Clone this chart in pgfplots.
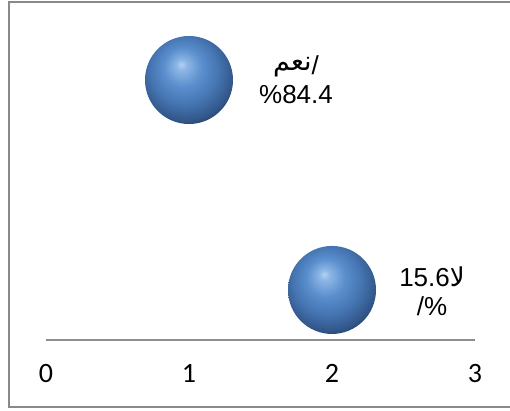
\documentclass[border=0pt]{standalone}
\usepackage{fontspec}
\usepackage{pgfplots}
\pgfplotsset{compat=1.18}
\setmainfont{Liberation Sans}
\newfontfamily\arabicfont[Script=Arabic]{DejaVu Sans}
\newfontfamily\tickfont{Carlito}
\TeXXeTstate=1

\definecolor{framegray}{HTML}{898989}
\definecolor{axisgray}{HTML}{8E8E8E}
% sphere colours, from the highlight out to the shaded rim
\definecolor{bA}{HTML}{B3D2F4}
\definecolor{bB}{HTML}{8DB6E5}
\definecolor{bC}{HTML}{5A8ECD}
\definecolor{bD}{HTML}{4676B3}
\definecolor{bE}{HTML}{32578A}
\definecolor{bF}{HTML}{1C3352}

\pgfdeclareradialshading{bubble}{\pgfqpoint{-4.5bp}{9bp}}{%
  color(0bp)=(bA); color(3bp)=(bB); color(11bp)=(bC); color(19bp)=(bD);
  color(27bp)=(bE); color(33bp)=(bF); color(50bp)=(bF)}

\pgfdeclareplotmark{sphere}{%
  \pgfpathcircle{\pgfpointorigin}{\pgfplotmarksize}%
  \pgfshadepath{bubble}{0}%
  \pgfusepath{discard}}

\begin{document}
\begin{tikzpicture}
\useasboundingbox (0,0) rectangle (510pt,410pt);
\fill[white] (0,0) rectangle (510pt,410pt);
\draw[framegray, line width=1.5pt] (9pt,408pt) rectangle (530pt,3pt);
\begin{axis}[
  at={(46pt,70pt)}, anchor=south west,
  scale only axis, width=429pt, height=307.6pt,
  xmin=0, xmax=3, ymin=-0.8, ymax=100,
  axis y line=none, axis x line=bottom,
  x axis line style={-, draw=axisgray, line width=1.5pt},
  xtick={0,1,2,3}, xticklabels={0,1,2,3},
  major tick length=0pt,
  xticklabel style={font=\tickfont\fontsize{28}{28}\selectfont, yshift=-21pt},
  ytick=\empty,
  clip=false,
]
\addplot[only marks, mark=sphere, mark size=44pt] coordinates {(1,84.4) (2,15.6)};

\node[align=center, font=\fontsize{26}{29}\selectfont, xshift=107pt]
  at (axis cs:1,84.4) {\raisebox{4pt}{\arabicfont\fontsize{27}{29}\selectfont\beginR نعم\endR}/\\\%84.4};
\node[align=center, font=\fontsize{26}{29}\selectfont, xshift=100pt, yshift=-1.5pt]
  at (axis cs:2,15.6) {15.6{\arabicfont\beginR لا\endR}\\/\%};
\end{axis}
\end{tikzpicture}
\end{document}
